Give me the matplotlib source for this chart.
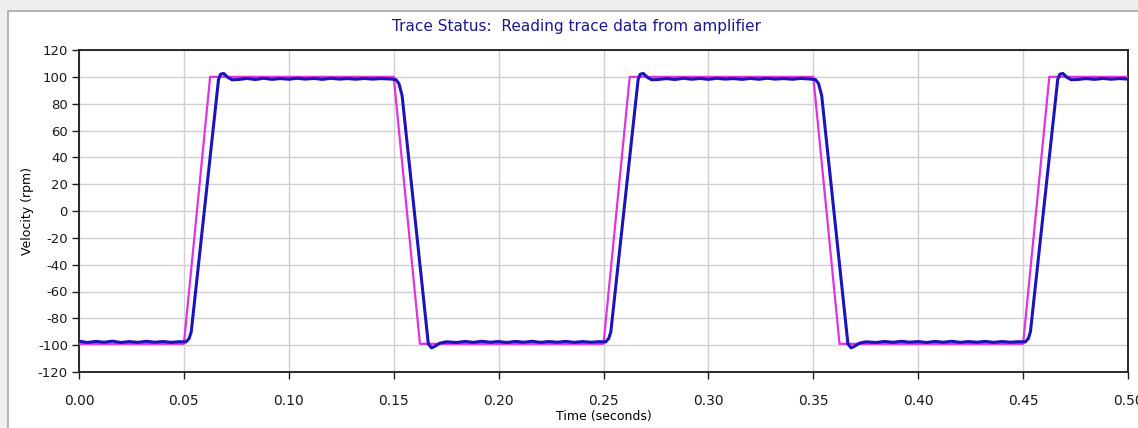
import matplotlib
matplotlib.use("Agg")
import matplotlib.pyplot as plt
from matplotlib.patches import Rectangle

# Commanded velocity (magenta) - trapezoidal square wave
cmd_time = [0.000, 0.050, 0.0625, 0.150, 0.1625, 0.250, 0.2625, 0.350, 0.3625, 0.450, 0.4625, 0.500]
cmd_vel = [-99, -99, 100, 100, -99, -99, 100, 100, -99, -99, 100, 100]

act_time = [
    0.000, 0.004, 0.008, 0.012, 0.016, 0.020, 0.024, 0.028, 0.032, 0.036, 0.040, 0.044, 0.048, 0.051,
    0.0525, 0.0535, 0.0665, 0.0675, 0.069, 0.071, 0.073, 0.076,
    0.080, 0.084, 0.088, 0.092, 0.096, 0.100, 0.104, 0.108, 0.112, 0.116, 0.120, 0.124, 0.128,
    0.132, 0.136, 0.140, 0.144, 0.148, 0.151,
    0.1525, 0.1540, 0.1665, 0.1680, 0.1695, 0.172, 0.175,
    0.180, 0.184, 0.188, 0.192, 0.196, 0.200, 0.204, 0.208, 0.212, 0.216, 0.220, 0.224, 0.228,
    0.232, 0.236, 0.240, 0.244, 0.248, 0.251,
    0.2525, 0.2535, 0.2665, 0.2675, 0.269, 0.271, 0.273, 0.276,
    0.280, 0.284, 0.288, 0.292, 0.296, 0.300, 0.304, 0.308, 0.312, 0.316, 0.320, 0.324, 0.328,
    0.332, 0.336, 0.340, 0.344, 0.348, 0.351,
    0.3525, 0.3540, 0.3665, 0.3680, 0.3695, 0.372, 0.375,
    0.380, 0.384, 0.388, 0.392, 0.396, 0.400, 0.404, 0.408, 0.412, 0.416, 0.420, 0.424, 0.428,
    0.432, 0.436, 0.440, 0.444, 0.448, 0.451,
    0.4525, 0.4535, 0.4665, 0.4675, 0.469, 0.471, 0.473, 0.476,
    0.480, 0.484, 0.488, 0.492, 0.496, 0.500,
]
act_vel = [
    -97.0, -98.0, -97.2, -97.8, -97.0, -98.0, -97.3, -97.9, -97.1, -97.8, -97.3, -97.9, -97.4, -97.6,
    -95.0, -90.0, 98.0, 102.0, 102.5, 99.5, 97.8, 98.0,
    98.8, 98.0, 98.9, 98.1, 98.7, 98.2, 98.9, 98.3, 98.8, 98.1, 98.9, 98.3, 98.7,
    98.2, 98.8, 98.3, 98.7, 98.4, 98.0,
    95.0, 86.0, -99.0, -102.0, -101.0, -98.5, -97.5,
    -98.0, -97.2, -97.9, -97.1, -97.8, -97.3, -98.0, -97.2, -97.8, -97.1, -97.9, -97.3, -97.8,
    -97.2, -97.9, -97.3, -97.8, -97.4, -97.6,
    -95.0, -90.0, 98.0, 102.0, 102.5, 99.5, 97.8, 98.0,
    98.7, 98.0, 98.9, 98.2, 98.8, 98.1, 98.9, 98.3, 98.7, 98.1, 98.8, 98.2, 98.9,
    98.3, 98.7, 98.2, 98.8, 98.4, 98.0,
    95.0, 86.0, -99.0, -102.0, -101.0, -98.5, -97.5,
    -98.0, -97.2, -97.9, -97.1, -97.8, -97.3, -98.0, -97.2, -97.8, -97.1, -97.9, -97.3, -97.8,
    -97.2, -97.9, -97.3, -97.8, -97.4, -97.6,
    -95.0, -90.0, 98.0, 102.0, 102.5, 99.5, 97.8, 98.0,
    98.7, 98.1, 98.8, 98.2, 98.7, 98.3,
]

x_ticks = [0.00, 0.05, 0.10, 0.15, 0.20, 0.25, 0.30, 0.35, 0.40, 0.45, 0.50]
y_ticks = list(range(-120, 121, 20))

plt.rcParams['font.family'] = 'DejaVu Sans'
plt.rcParams['axes.unicode_minus'] = False

fig = plt.figure(figsize=(11.38, 4.28), dpi=100, facecolor='#efefef')

# window frame
fig.patches.append(Rectangle((8 / 1138, -0.05), 1.1, 1.05 - 11 / 428,
                             transform=fig.transFigure, facecolor='white',
                             edgecolor='#a8a8a8', linewidth=1.2, zorder=-10))

ax = fig.add_axes([79 / 1138, 1 - 372 / 428, 1049 / 1138, 322 / 428])
ax.set_facecolor('white')

ax.plot(cmd_time, cmd_vel, color='#e033e0', linewidth=1.6, zorder=3)
ax.plot(act_time, act_vel, color='#1c14b8', linewidth=2.2, zorder=4)

ax.set_xlim(0, 0.5)
ax.set_ylim(-120, 120)
ax.set_xticks(x_ticks)
ax.set_xticklabels([f"{t:.2f}" for t in x_ticks])
ax.set_yticks(y_ticks)
ax.grid(True, color='#d0d0d0', linewidth=1.0)
ax.set_axisbelow(True)

for s in ax.spines.values():
    s.set_color('#1a1a1a')
    s.set_linewidth(1.3)

ax.tick_params(axis='x', direction='out', length=5, width=1, pad=11, labelsize=10, colors='#1a1a1a')
ax.tick_params(axis='y', direction='out', length=5, width=1, pad=3, labelsize=9.5, colors='#1a1a1a')

ax.set_xlabel("Time (seconds)", fontsize=9, labelpad=1)
ax.set_ylabel("Velocity (rpm)", fontsize=9, labelpad=3)

fig.text(576 / 1138, 1 - 27 / 428, "Trace Status:  Reading trace data from amplifier",
         color='#1a1a8c', fontsize=11, ha='center', va='center')

fig.savefig("out.png", dpi=100, facecolor=fig.get_facecolor())
